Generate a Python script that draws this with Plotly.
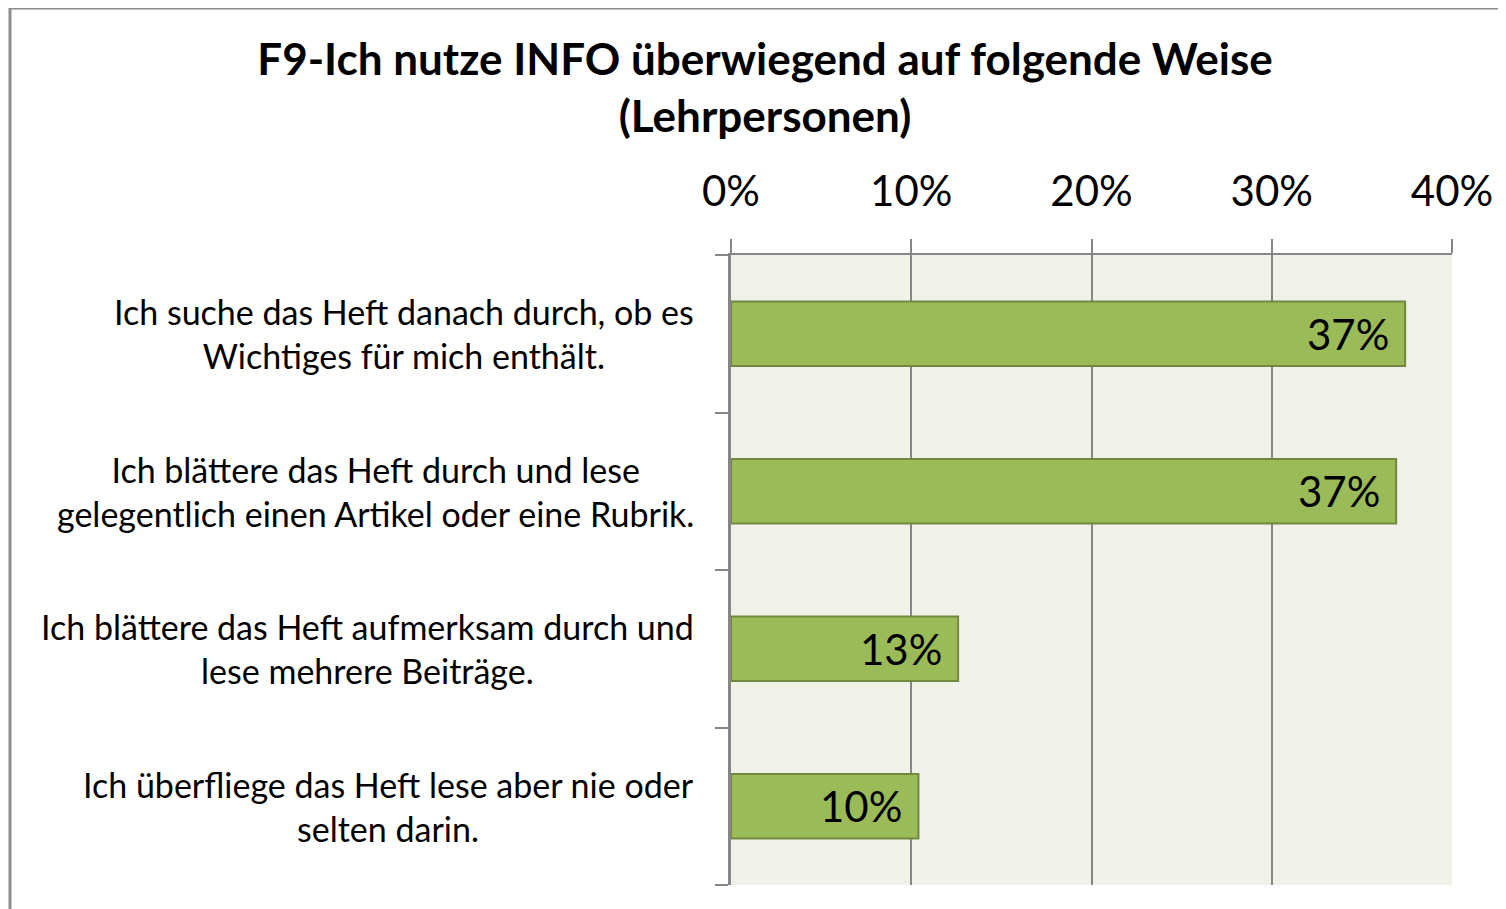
import plotly.graph_objects as go

title_lines = ["F9-Ich nutze INFO überwiegend auf folgende Weise", "(Lehrpersonen)"]
categories = [
    "Ich suche das Heft danach durch, ob es<br>Wichtiges für mich enthält.",
    "Ich blättere das Heft durch und lese<br>gelegentlich einen Artikel oder eine Rubrik.",
    "Ich blättere das Heft aufmerksam durch und<br>lese mehrere Beiträge.",
    "Ich überfliege das Heft lese aber nie oder<br>selten darin.",
]
values = [37.4, 36.9, 12.6, 10.4]
tick_vals = [0, 10, 20, 30, 40]
tick_text = ["0%", "10%", "20%", "30%", "40%"]

OFF = 8  # page body margin
W, H = 1506 - OFF, 909 - OFF
L, R, T, B = 731 - OFF, 1452 - OFF, 255 - OFF, 885 - OFF
FONT = "Lato"

fig = go.Figure()
fig.add_trace(go.Bar(
    x=values, y=categories, orientation="h",
    marker=dict(color="#9BBB59", line=dict(color="#71893F", width=2)),
    width=0.41, hoverinfo="skip",
))

annotations = []
for c, v in zip(categories, values):
    annotations.append(dict(
        x=v, y=c, xref="x", yref="y", text=f"{v:.0f}%", showarrow=False,
        xanchor="right", yanchor="middle", xshift=-14,
        font=dict(family=FONT, size=42, color="#000000"),
    ))
    annotations.append(dict(
        x=(696 - 731) / (R - L), y=c, xref="paper", yref="y", text=c, showarrow=False,
        xanchor="right", yanchor="middle", align="center",
        font=dict(family=FONT, size=34, color="#000000"),
    ))

fig.update_layout(
    width=W, height=H, autosize=False,
    margin=dict(l=L, r=W - R, t=T, b=H - B, pad=0),
    paper_bgcolor="#FFFFFF", plot_bgcolor="#F0F2EA",
    showlegend=False,
    title=dict(
        text="<br>".join(title_lines), xref="container", yref="container",
        x=(765 - OFF) / W, y=1 - 67 / H, xanchor="center", yanchor="middle",
        font=dict(family=FONT, size=44, color="#000000", weight="bold"),
    ),
    xaxis=dict(
        side="top", range=[0, 40], tickvals=tick_vals, ticktext=tick_text,
        showgrid=True, gridcolor="#868686", gridwidth=1.5,
        showline=True, linecolor="#868686", linewidth=2,
        ticks="outside", ticklen=14, tickcolor="#868686", tickwidth=1.5,
        tickfont=dict(family=FONT, size=42, color="#000000"),
        ticklabelstandoff=16, zeroline=False, fixedrange=True,
    ),
    yaxis=dict(
        categoryorder="array", categoryarray=categories[::-1],
        showticklabels=False, tickson="boundaries",
        ticks="outside", ticklen=13, tickcolor="#868686", tickwidth=1.5,
        showline=True, linecolor="#868686", linewidth=3,
        showgrid=False, zeroline=False, fixedrange=True,
    ),
    annotations=annotations,
    shapes=[dict(
        type="rect", xref="paper", yref="paper",
        x0=(10 - 731) / (R - L), x1=(1530 - 731) / (R - L),
        y0=(885 - 930) / (B - T), y1=(885 - 8) / (B - T),
        line=dict(color="#8C8C8C", width=3), fillcolor="rgba(0,0,0,0)", layer="below",
    )],
)

fig.write_html("out.html")
